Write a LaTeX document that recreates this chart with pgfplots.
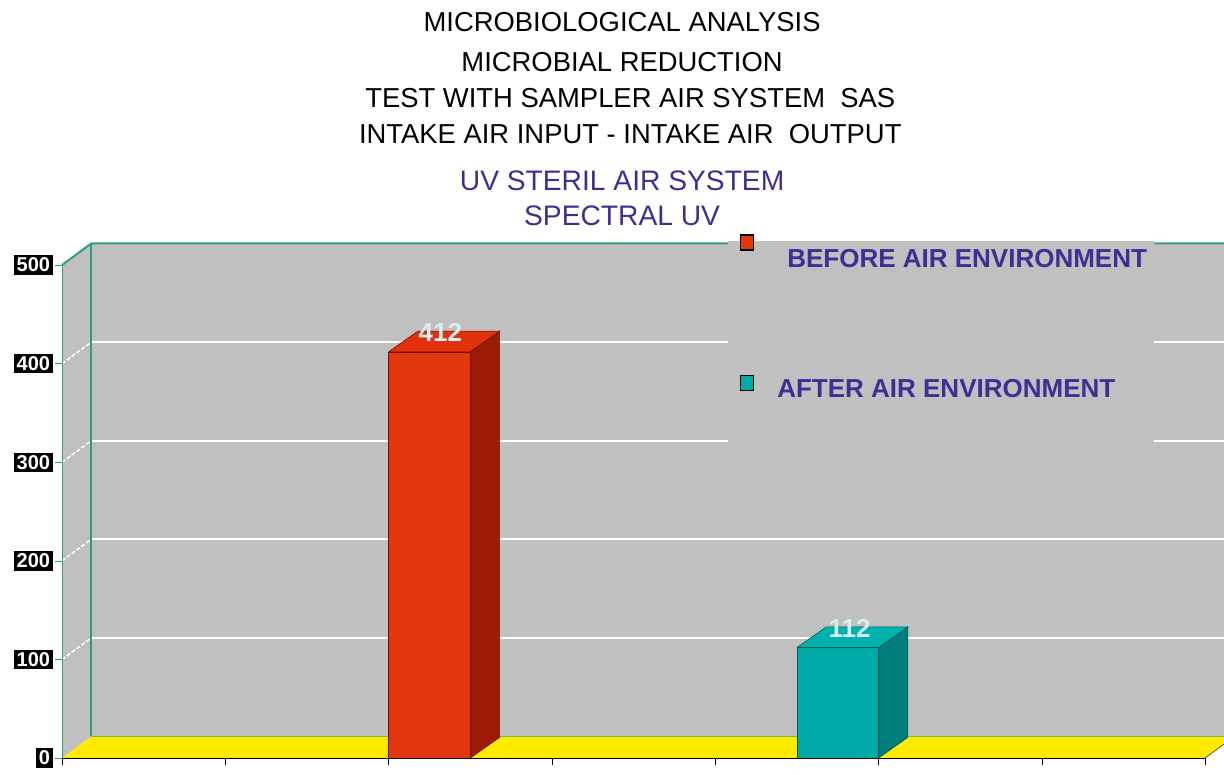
\documentclass[border=0pt]{standalone}
\usepackage{fontspec}
\setmainfont{Liberation Sans}
\usepackage{pgfplots}
\pgfplotsset{compat=1.18}
\definecolor{wallgray}{HTML}{C0C0C0}
\definecolor{flooryellow}{HTML}{FFEA00}
\definecolor{axgreen}{HTML}{2E9E82}
\definecolor{redfront}{HTML}{E3370F}
\definecolor{redside}{HTML}{9B1B06}
\definecolor{redtop}{HTML}{E0300C}
\definecolor{tealfront}{HTML}{00AAA8}
\definecolor{tealside}{HTML}{007E7C}
\definecolor{tealtop}{HTML}{00B2AE}
\definecolor{legblue}{HTML}{3D2F94}
\definecolor{titleblue}{HTML}{3A3090}
\definecolor{labelcyan}{HTML}{D4F0F0}
\begin{document}
\begin{tikzpicture}
\begin{axis}[
  scale only axis, width=571.5pt, height=246.5pt,
  xmin=0, xmax=7, ymin=0, ymax=500, enlargelimits=false,
  clip=false, axis on top=true,
  axis x line*=bottom, axis y line*=left,
  x axis line style={black,-}, y axis line style={axgreen,-},
  xtick={0,1,2,3,4,5,6,7}, xticklabels={},
  ytick={0,100,200,300,400,500},
  xtick style={black}, ytick style={axgreen},
  tick align=outside, major tick length=3.5pt,
  /pgf/number format/assume math mode=true,
  yticklabel style={fill=black, text=white, font=\bfseries\fontsize{10}{10}\selectfont, inner sep=1.3pt, xshift=-1pt},
  legend style={at={(axis cs:4.15,531.5)}, anchor=north west, draw=none, fill=none,
    inner sep=0pt, row sep=50pt, font=\bfseries\fontsize{13}{13}\selectfont, text=legblue},
  legend cell align=left,
]
% wall, side wall and floor
\fill[wallgray] (axis cs:0.18,22) rectangle (axis cs:7.4,522);
\fill[wallgray] (axis cs:0,0) -- (axis cs:0.18,22) -- (axis cs:0.18,522) -- (axis cs:0,500) -- cycle;
\fill[flooryellow] (axis cs:0,0) -- (axis cs:0.18,22) -- (axis cs:7.18,22) -- (axis cs:7,0) -- cycle;
\draw[gray!70!black, line width=0.4pt] (axis cs:7,0) -- (axis cs:7.18,22);
% grid
\draw[white, line width=1pt] (axis cs:0.18,122) -- (axis cs:7.4,122);
\draw[white, line width=1pt] (axis cs:0.18,222) -- (axis cs:7.4,222);
\draw[white, line width=1pt] (axis cs:0.18,322) -- (axis cs:7.4,322);
\draw[white, line width=1pt] (axis cs:0.18,422) -- (axis cs:7.4,422);
\draw[white, line width=0.8pt, dash pattern=on 2pt off 1pt] (axis cs:0,100) -- (axis cs:0.18,122);
\draw[white, line width=0.8pt, dash pattern=on 2pt off 1pt] (axis cs:0,200) -- (axis cs:0.18,222);
\draw[white, line width=0.8pt, dash pattern=on 2pt off 1pt] (axis cs:0,300) -- (axis cs:0.18,322);
\draw[white, line width=0.8pt, dash pattern=on 2pt off 1pt] (axis cs:0,400) -- (axis cs:0.18,422);
% edges
\draw[axgreen, line width=1pt] (axis cs:0,500) -- (axis cs:0.18,522) -- (axis cs:7.4,522);
\draw[axgreen, line width=1pt] (axis cs:0.18,22) -- (axis cs:0.18,522);
\draw[axgreen!70!yellow, line width=0.8pt] (axis cs:0.18,22) -- (axis cs:7.18,22);
% legend panel
\fill[wallgray] (axis cs:4.08,317) rectangle (axis cs:6.69,524.5);

% bars: side and top faces
\addplot[fill=redside, draw=redside!70!black, line width=0.3pt, forget plot] coordinates {(2.5,0) (2.68,21) (2.68,433) (2.5,412) (2.5,0)};
\addplot[fill=redtop, draw=redside!70!black, line width=0.3pt, forget plot] coordinates {(2,412) (2.18,433) (2.68,433) (2.5,412) (2,412)};
\addplot[fill=tealside, draw=tealside!70!black, line width=0.3pt, forget plot] coordinates {(5,0) (5.18,21) (5.18,133) (5,112) (5,0)};
\addplot[fill=tealtop, draw=tealside!70!black, line width=0.3pt, forget plot] coordinates {(4.5,112) (4.68,133) (5.18,133) (5,112) (4.5,112)};
% bars: front faces
\addplot[ybar, bar width=0.5, bar shift=0pt, fill=redfront, draw=redside!70!black, line width=0.3pt,
  nodes near coords, every node near coord/.append style={anchor=south, inner sep=0pt, xshift=5.5pt, yshift=5pt, text=labelcyan, font=\bfseries\fontsize{13}{13}\selectfont},
  legend image code/.code={\draw[fill=redfront, draw=black, line width=0.6pt] (0pt,5pt) rectangle (6.5pt,12.5pt);}]
  coordinates {(2.25,412)};
\addlegendentry{\hspace*{14.5pt}BEFORE AIR ENVIRONMENT}
\addplot[ybar, bar width=0.5, bar shift=0pt, fill=tealfront, draw=tealside!70!black, line width=0.3pt,
  nodes near coords, every node near coord/.append style={anchor=south, inner sep=0pt, xshift=6pt, yshift=5pt, text=labelcyan, font=\bfseries\fontsize{13}{13}\selectfont},
  legend image code/.code={\draw[fill=tealfront, draw=black, line width=0.6pt] (0pt,0pt) rectangle (6.5pt,7.5pt);}]
  coordinates {(4.75,112)};
\addlegendentry{\hspace*{9.5pt}AFTER AIR ENVIRONMENT}

% titles
\node[font=\fontsize{13.7}{13.7}\selectfont] at (axis cs:3.43,746) {MICROBIOLOGICAL ANALYSIS};
\node[font=\fontsize{13.7}{13.7}\selectfont] at (axis cs:3.43,705.9) {MICROBIAL REDUCTION};
\node[font=\fontsize{13.7}{13.7}\selectfont] at (axis cs:3.48,669.4) {TEST WITH SAMPLER AIR SYSTEM\ \ SAS};
\node[font=\fontsize{13.7}{13.7}\selectfont] at (axis cs:3.48,632.9) {INTAKE AIR INPUT - INTAKE AIR\ \ OUTPUT};
\node[font=\fontsize{14.1}{14.1}\selectfont, text=titleblue] at (axis cs:3.43,585.2) {UV STERIL AIR SYSTEM};
\node[font=\fontsize{14.1}{14.1}\selectfont, text=titleblue] at (axis cs:3.43,549.7) {SPECTRAL UV};

\coordinate (bbsw) at (axis cs:-0.3797,-16.2);
\coordinate (bbne) at (axis cs:7.116,768.8);
\end{axis}
\pgfresetboundingbox
\path[use as bounding box] (bbsw) rectangle (bbne);
\end{tikzpicture}
\end{document}
